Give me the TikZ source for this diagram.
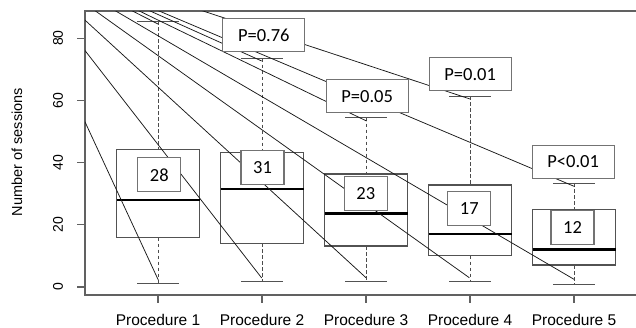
\documentclass[tikz,border=0pt]{standalone}
\usepackage{fontspec}
\setmainfont{Liberation Sans}
\newfontfamily\calib{Carlito}
\begin{document}
\begin{tikzpicture}[x=1pt,y=-1pt,
  frame/.style={draw=black!62, line width=1.1pt},
  bxp/.style={draw=black!68, line width=1.1pt},
  med/.style={draw=black, line width=2.6pt},
  whisk/.style={draw=black!70, line width=0.9pt, dash pattern=on 3.5pt off 2.5pt},
  capline/.style={draw=black!68, line width=1pt},
  ray/.style={draw=black!90, line width=0.75pt},
  lab/.style={draw=black!55, fill=white, line width=1.1pt, minimum width=43pt, minimum height=34pt, inner sep=0pt, font=\calib\fontsize{18.5}{21}\selectfont},
  plab/.style={lab, minimum width=82pt, minimum height=33pt},
  axlab/.style={font=\fontsize{14}{16}\selectfont},
  ttl/.style={font=\fontsize{14.5}{17}\selectfont},
  xlab/.style={font=\fontsize{15.5}{18}\selectfont, anchor=base, inner sep=0pt}
  ]
\useasboundingbox (0,0) rectangle (636,327);
% frame
\coordinate (ftr) at (636,11);
\coordinate (ftl) at (85,11);
\coordinate (fbl) at (85,295);
\coordinate (fbr) at (636,295);
\draw[frame] (ftr) -- (ftl) -- (fbl) -- (fbr);
% y axis
\foreach \v in {0,20,40,60,80} {
  \coordinate (yt\v) at (85,{287-3.11*\v});
  \draw[frame] (yt\v) -- ++(-8,0);
  \node[axlab, rotate=90] (ytl\v) at (58,{287-3.11*\v}) {\v};
}
\node[ttl, rotate=90] (ytitle) at (17,152) {Number of sessions};
% boxes
\foreach \i/\cx/\tp/\bt/\md/\up/\lo in {1/158/149.3/237.7/200/21/283.7, 2/262/152.7/243.3/189/58.7/281, 3/366/174/246/213.3/117.7/281, 4/470/185/255.7/234/96.3/281, 5/574/209.3/265/249.3/183.3/284} {
  \coordinate (xt\i) at (\cx,295);
  \draw[frame] (xt\i) -- ++(0,8);
  \node[xlab] (xl\i) at (\cx,325) {Procedure \i};
  \coordinate (bt\i) at (\cx,\tp);
  \coordinate (bb\i) at (\cx,\bt);
  \coordinate (cu\i) at (\cx,\up);
  \coordinate (cl\i) at (\cx,\lo);
  \draw[whisk] (cu\i) -- (bt\i);
  \draw[whisk] (bb\i) -- (cl\i);
  \draw[capline] ([xshift=-21pt]cu\i) -- ([xshift=21pt]cu\i);
  \draw[capline] ([xshift=-21pt]cl\i) -- ([xshift=21pt]cl\i);
  \draw[bxp] (\cx-41.5,\tp) rectangle (\cx+41.5,\bt);
  \draw[med] (\cx-41.5,\md) -- (\cx+41.5,\md);
}
% rays
\coordinate (O) at (3,-55);
\coordinate (re1) at (158.3,280);
\coordinate (re2) at (261.7,278);
\coordinate (re3) at (366,277.7);
\coordinate (re4) at (469.3,277.7);
\coordinate (re5) at (574,279.3);
\coordinate (ru1) at (158,24);
\coordinate (ru2) at (261.7,61);
\coordinate (ru3) at (366.5,121);
\coordinate (ru4) at (470,99);
\coordinate (ru5) at (574.5,186.5);
\begin{scope}
  \clip (85,11) rectangle (636,295);
  \foreach \i in {1,...,5} {
    \draw[ray] (O) -- (re\i);
    \draw[ray] (O) -- (ru\i);
  }
\end{scope}
% labels
\node[lab] (m1) at (159.3,174.8) {28};
\node[lab] (m2) at (262.5,167.8) {31};
\node[lab] (m3) at (365.8,193.3) {23};
\node[lab] (m4) at (469.3,208.8) {17};
\node[lab] (m5) at (572.5,227.5) {12};
\node[plab] (p2) at (263.8,35.3) {P=0.76};
\node[plab] (p3) at (367.2,96.3) {P=0.05};
\node[plab] (p4) at (470.2,74.2) {P=0.01};
\node[plab] (p5) at (573.2,161.7) {P<0.01};
\end{tikzpicture}
\end{document}
